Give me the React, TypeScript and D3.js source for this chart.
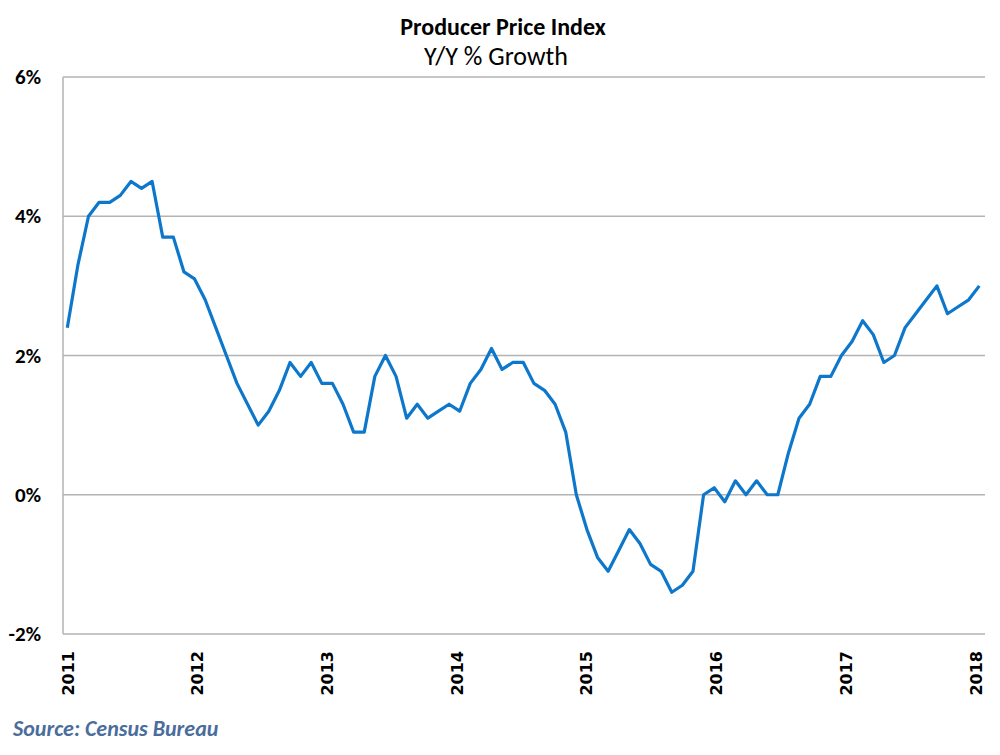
import React from "react";
import * as d3 from "d3";

const years = [2011, 2012, 2013, 2014, 2015, 2016, 2017, 2018];
const yTicks = [-2, 0, 2, 4, 6];
const values2011 = [2.4, 3.3, 4.0, 4.2, 4.2, 4.3, 4.5, 4.4, 4.5, 3.7, 3.7, 3.2];
const values2012 = [3.1, 2.8, 2.4, 2.0, 1.6, 1.3, 1.0, 1.2, 1.5, 1.9, 1.7, 1.9];
const values2013 = [1.6, 1.6, 1.3, 0.9, 0.9, 1.7, 2.0, 1.7, 1.1, 1.3, 1.1, 1.2];
const values2014 = [1.3, 1.2, 1.6, 1.8, 2.1, 1.8, 1.9, 1.9, 1.6, 1.5, 1.3, 0.9];
const values2015 = [0.0, -0.5, -0.9, -1.1, -0.8, -0.5, -0.7, -1.0, -1.1, -1.4, -1.3, -1.1];
const values2016 = [0.0, 0.1, -0.1, 0.2, 0.0, 0.2, 0.0, 0.0, 0.6, 1.1, 1.3, 1.7];
const values2017 = [1.7, 2.0, 2.2, 2.5, 2.3, 1.9, 2.0, 2.4, 2.6, 2.8, 3.0, 2.6];
const values2018 = [2.7, 2.8, 3.0];

const series = [
  ...values2011, ...values2012, ...values2013, ...values2014,
  ...values2015, ...values2016, ...values2017, ...values2018,
];

const title = "Producer Price Index";
const subtitle = "Y/Y % Growth";
const source = "Source: Census Bureau";

export default function App() {
  const left = 63;
  const right = 985;
  const top = 77;
  const bottom = 634;

  const x = d3.scaleLinear().domain([0, series.length - 1]).range([67.3, 979.3]);
  const y = d3.scaleLinear().domain([-2, 6]).range([bottom, top]);
  const yearX = d3.scaleLinear().domain([2011, 2018]).range([67.5, 975.5]);

  const line = d3
    .line<number>()
    .x((_, i) => x(i))
    .y((d) => y(d));

  const calibri = "Carlito, 'Liberation Sans Narrow', 'Open Sans', sans-serif";

  return (
    <svg
      width={1000}
      height={755}
      style={{ position: "absolute", left: 0, top: 0, background: "#fff" }}
    >
      <rect x={0} y={0} width={1000} height={755} fill="#fff" />
      <text
        x={503}
        y={35}
        textAnchor="middle"
        fontFamily={calibri}
        fontWeight="bold"
        fontSize={24}
        fill="#000"
      >
        {title}
      </text>
      <text
        x={496}
        y={65}
        textAnchor="middle"
        fontFamily={calibri}
        fontSize={26}
        fill="#000"
      >
        {subtitle}
      </text>

      {yTicks.map((t) => (
        <g key={t}>
          <line
            x1={left}
            x2={right}
            y1={y(t)}
            y2={y(t)}
            stroke="#b3b3b3"
            strokeWidth={1.5}
          />
          <text
            x={41}
            y={y(t) + 7}
            textAnchor="end"
            fontFamily={calibri}
            fontWeight="bold"
            fontSize={21}
            fill="#000"
          >
            {`${t}%`}
          </text>
        </g>
      ))}
      <line x1={left} x2={left} y1={top} y2={bottom} stroke="#b3b3b3" strokeWidth={1.5} />

      <path
        d={line(series) || ""}
        fill="none"
        stroke="#0d77cc"
        strokeWidth={3.2}
        strokeLinejoin="round"
      />

      {years.map((yr) => (
        <text
          key={yr}
          transform={`translate(${yearX(yr) + 6},${651}) rotate(-90)`}
          textAnchor="end"
          fontFamily="'DejaVu Sans', Verdana, sans-serif"
          fontWeight="bold"
          fontSize={16}
          fill="#000"
        >
          {yr}
        </text>
      ))}

      <text
        x={13}
        y={736}
        fontFamily={calibri}
        fontWeight="bold"
        fontStyle="italic"
        fontSize={22}
        fill="#4a6d9b"
      >
        {source}
      </text>
    </svg>
  );
}
